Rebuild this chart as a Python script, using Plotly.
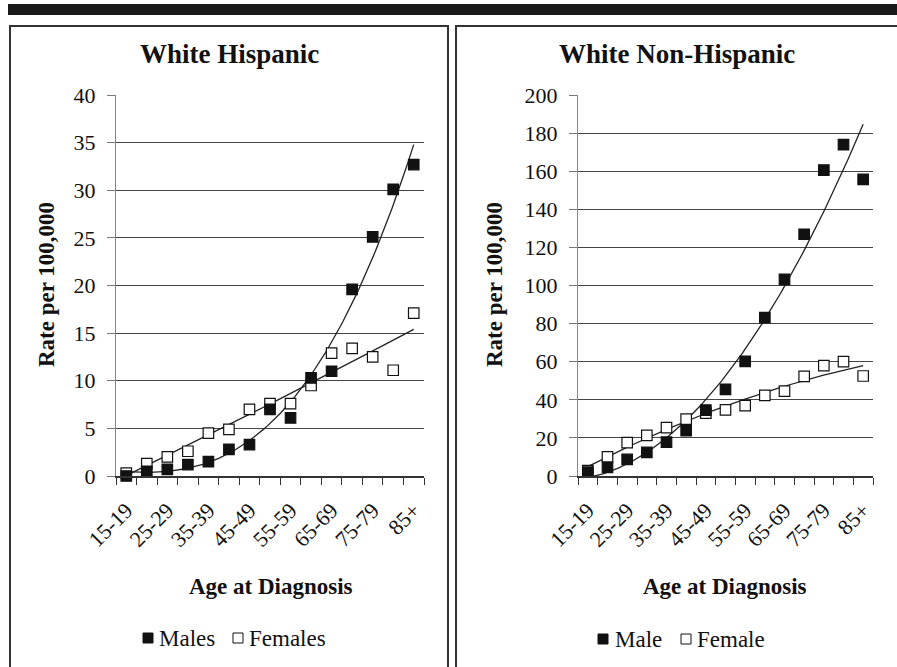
import numpy as np
import plotly.graph_objects as go

# Age groups at diagnosis
age_groups = ["15-19", "20-24", "25-29", "30-34", "35-39", "40-44", "45-49",
              "50-54", "55-59", "60-64", "65-69", "70-74", "75-79", "80-84", "85+"]

# Rates per 100,000 - White Hispanic
hisp_males = [0.0, 0.5, 0.7, 1.2, 1.5, 2.8, 3.3, 7.0, 6.1, 10.3, 11.0, 19.6, 25.1, 30.1, 32.7]
hisp_females = [0.3, 1.3, 2.0, 2.6, 4.5, 4.9, 7.0, 7.6, 7.6, 9.5, 12.9, 13.4, 12.5, 11.1, 17.1]

# Rates per 100,000 - White Non-Hispanic
nonhisp_male = [2.0, 4.5, 8.7, 12.4, 17.8, 23.8, 34.6, 45.5, 60.2, 83.1, 103.2, 126.9, 160.6, 173.9, 155.7]
nonhisp_female = [2.8, 10.0, 17.5, 21.3, 25.4, 29.9, 33.0, 34.7, 36.9, 42.3, 44.6, 52.3, 57.9, 60.0, 52.5]

W, H = 897, 667
SERIF = "Liberation Serif"


def px(x):
    return x / W


def py(y):
    return 1 - y / H


idx = np.arange(len(age_groups))
fine = np.linspace(0, len(age_groups) - 1, 200)


def trend(values, deg):
    coef = np.polyfit(idx, values, deg)
    return np.polyval(coef, fine)


fig = go.Figure()


def add_panel(xa, ya, males, females, deg_m, deg_f, male_name, female_name):
    # fitted trendlines
    fig.add_trace(go.Scatter(x=fine, y=trend(females, deg_f), mode="lines",
                             line=dict(color="#222", width=1.3), xaxis=xa, yaxis=ya,
                             showlegend=False, hoverinfo="skip"))
    fig.add_trace(go.Scatter(x=fine, y=trend(males, deg_m), mode="lines",
                             line=dict(color="#222", width=1.3), xaxis=xa, yaxis=ya,
                             showlegend=False, hoverinfo="skip"))
    fig.add_trace(go.Scatter(x=idx, y=females, mode="markers", name=female_name,
                             marker=dict(symbol="square", size=10.5, color="white",
                                         line=dict(color="#111", width=1.2)),
                             xaxis=xa, yaxis=ya, showlegend=False, cliponaxis=False))
    fig.add_trace(go.Scatter(x=idx, y=males, mode="markers", name=male_name,
                             marker=dict(symbol="square", size=10.5, color="#111",
                                         line=dict(color="#111", width=1.2)),
                             xaxis=xa, yaxis=ya, showlegend=False, cliponaxis=False))


add_panel("x", "y", hisp_males, hisp_females, 3, 2, "Males", "Females")
add_panel("x2", "y2", nonhisp_male, nonhisp_female, 2, 2, "Male", "Female")

label_vals = list(idx[::2])
label_text = age_groups[::2]
boundaries = [i - 0.5 for i in range(len(age_groups) + 1)]


def xaxis_cfg(x0, x1):
    return dict(domain=[px(x0), px(x1)], range=[-0.5, len(age_groups) - 0.5],
                tickmode="array", tickvals=label_vals, ticktext=label_text,
                tickangle=-45, ticks="", ticklabelstandoff=11,
                showgrid=False, zeroline=False,
                showline=True, linecolor="#333", linewidth=1.5,
                tickfont=dict(family=SERIF, size=22, color="#111"),
                minor=dict(tickmode="array", tickvals=boundaries, ticks="outside",
                           ticklen=7, tickcolor="#333", tickwidth=1.2, showgrid=False),
                automargin=False, fixedrange=True)


def yaxis_cfg(top, step):
    return dict(domain=[py(476), py(95)], range=[0, top], dtick=step,
                ticks="outside", ticklen=8, tickcolor="#777", tickwidth=1.2,
                ticklabelstandoff=7,
                showline=True, linecolor="#888", linewidth=1.2,
                showgrid=True, gridcolor="#444", gridwidth=1.3, zeroline=False,
                tickfont=dict(family=SERIF, size=22, color="#111"),
                automargin=False, fixedrange=True)


fig.update_layout(
    template="none",
    font=dict(family=SERIF),
    width=W, height=H, margin=dict(l=0, r=0, t=0, b=0, pad=0, autoexpand=False),
    paper_bgcolor="white", plot_bgcolor="white",
    xaxis=dict(**xaxis_cfg(116, 424), anchor="y"),
    yaxis=dict(**yaxis_cfg(40, 5), anchor="x"),
    xaxis2=dict(**xaxis_cfg(578, 873), anchor="y2"),
    yaxis2=dict(**yaxis_cfg(200, 20), anchor="x2"),
    showlegend=False,
)

shapes = [
    # heavy rule across the top
    dict(type="rect", xref="paper", yref="paper", x0=px(8), x1=px(897), y0=py(15), y1=py(4),
         fillcolor="#1a1a1a", line=dict(width=0)),
    # panel frames
    dict(type="rect", xref="paper", yref="paper", x0=px(10), x1=px(448), y0=py(700), y1=py(26),
         fillcolor="rgba(0,0,0,0)", line=dict(color="#333", width=2)),
    dict(type="rect", xref="paper", yref="paper", x0=px(456), x1=px(900), y0=py(700), y1=py(26),
         fillcolor="rgba(0,0,0,0)", line=dict(color="#333", width=2)),
]

annotations = []


def text(x, y, s, size, bold=False, angle=0, xanchor="center"):
    annotations.append(dict(x=px(x), y=py(y), xref="paper", yref="paper",
                            text=f"<b>{s}</b>" if bold else s, showarrow=False,
                            xanchor=xanchor, yanchor="middle", textangle=angle,
                            font=dict(family=SERIF, size=size, color="#111")))


# panel titles
text(230, 54, "White Hispanic", 27, bold=True)
text(677, 54, "White Non-Hispanic", 27, bold=True)
# axis titles
text(46, 285, "Rate per 100,000", 23, bold=True, angle=-90)
text(494, 285, "Rate per 100,000", 23, bold=True, angle=-90)
text(271, 586, "Age at Diagnosis", 23, bold=True)
text(725, 586, "Age at Diagnosis", 23, bold=True)


def legend_key(x0, y0, filled):
    shapes.append(dict(type="rect", xref="paper", yref="paper",
                       x0=px(x0), x1=px(x0 + 10), y0=py(y0 + 10), y1=py(y0),
                       fillcolor="#111" if filled else "white",
                       line=dict(color="#111", width=1)))


# legends
legend_key(143, 633, True)
text(157, 638, "Males", 23, xanchor="left")
legend_key(233, 633, False)
text(247, 638, "Females", 23, xanchor="left")
legend_key(598, 634, True)
text(613, 639, "Male", 23, xanchor="left")
legend_key(681, 634, False)
text(695, 639, "Female", 23, xanchor="left")

fig.update_layout(shapes=shapes, annotations=annotations)
fig.write_html("out.html")
